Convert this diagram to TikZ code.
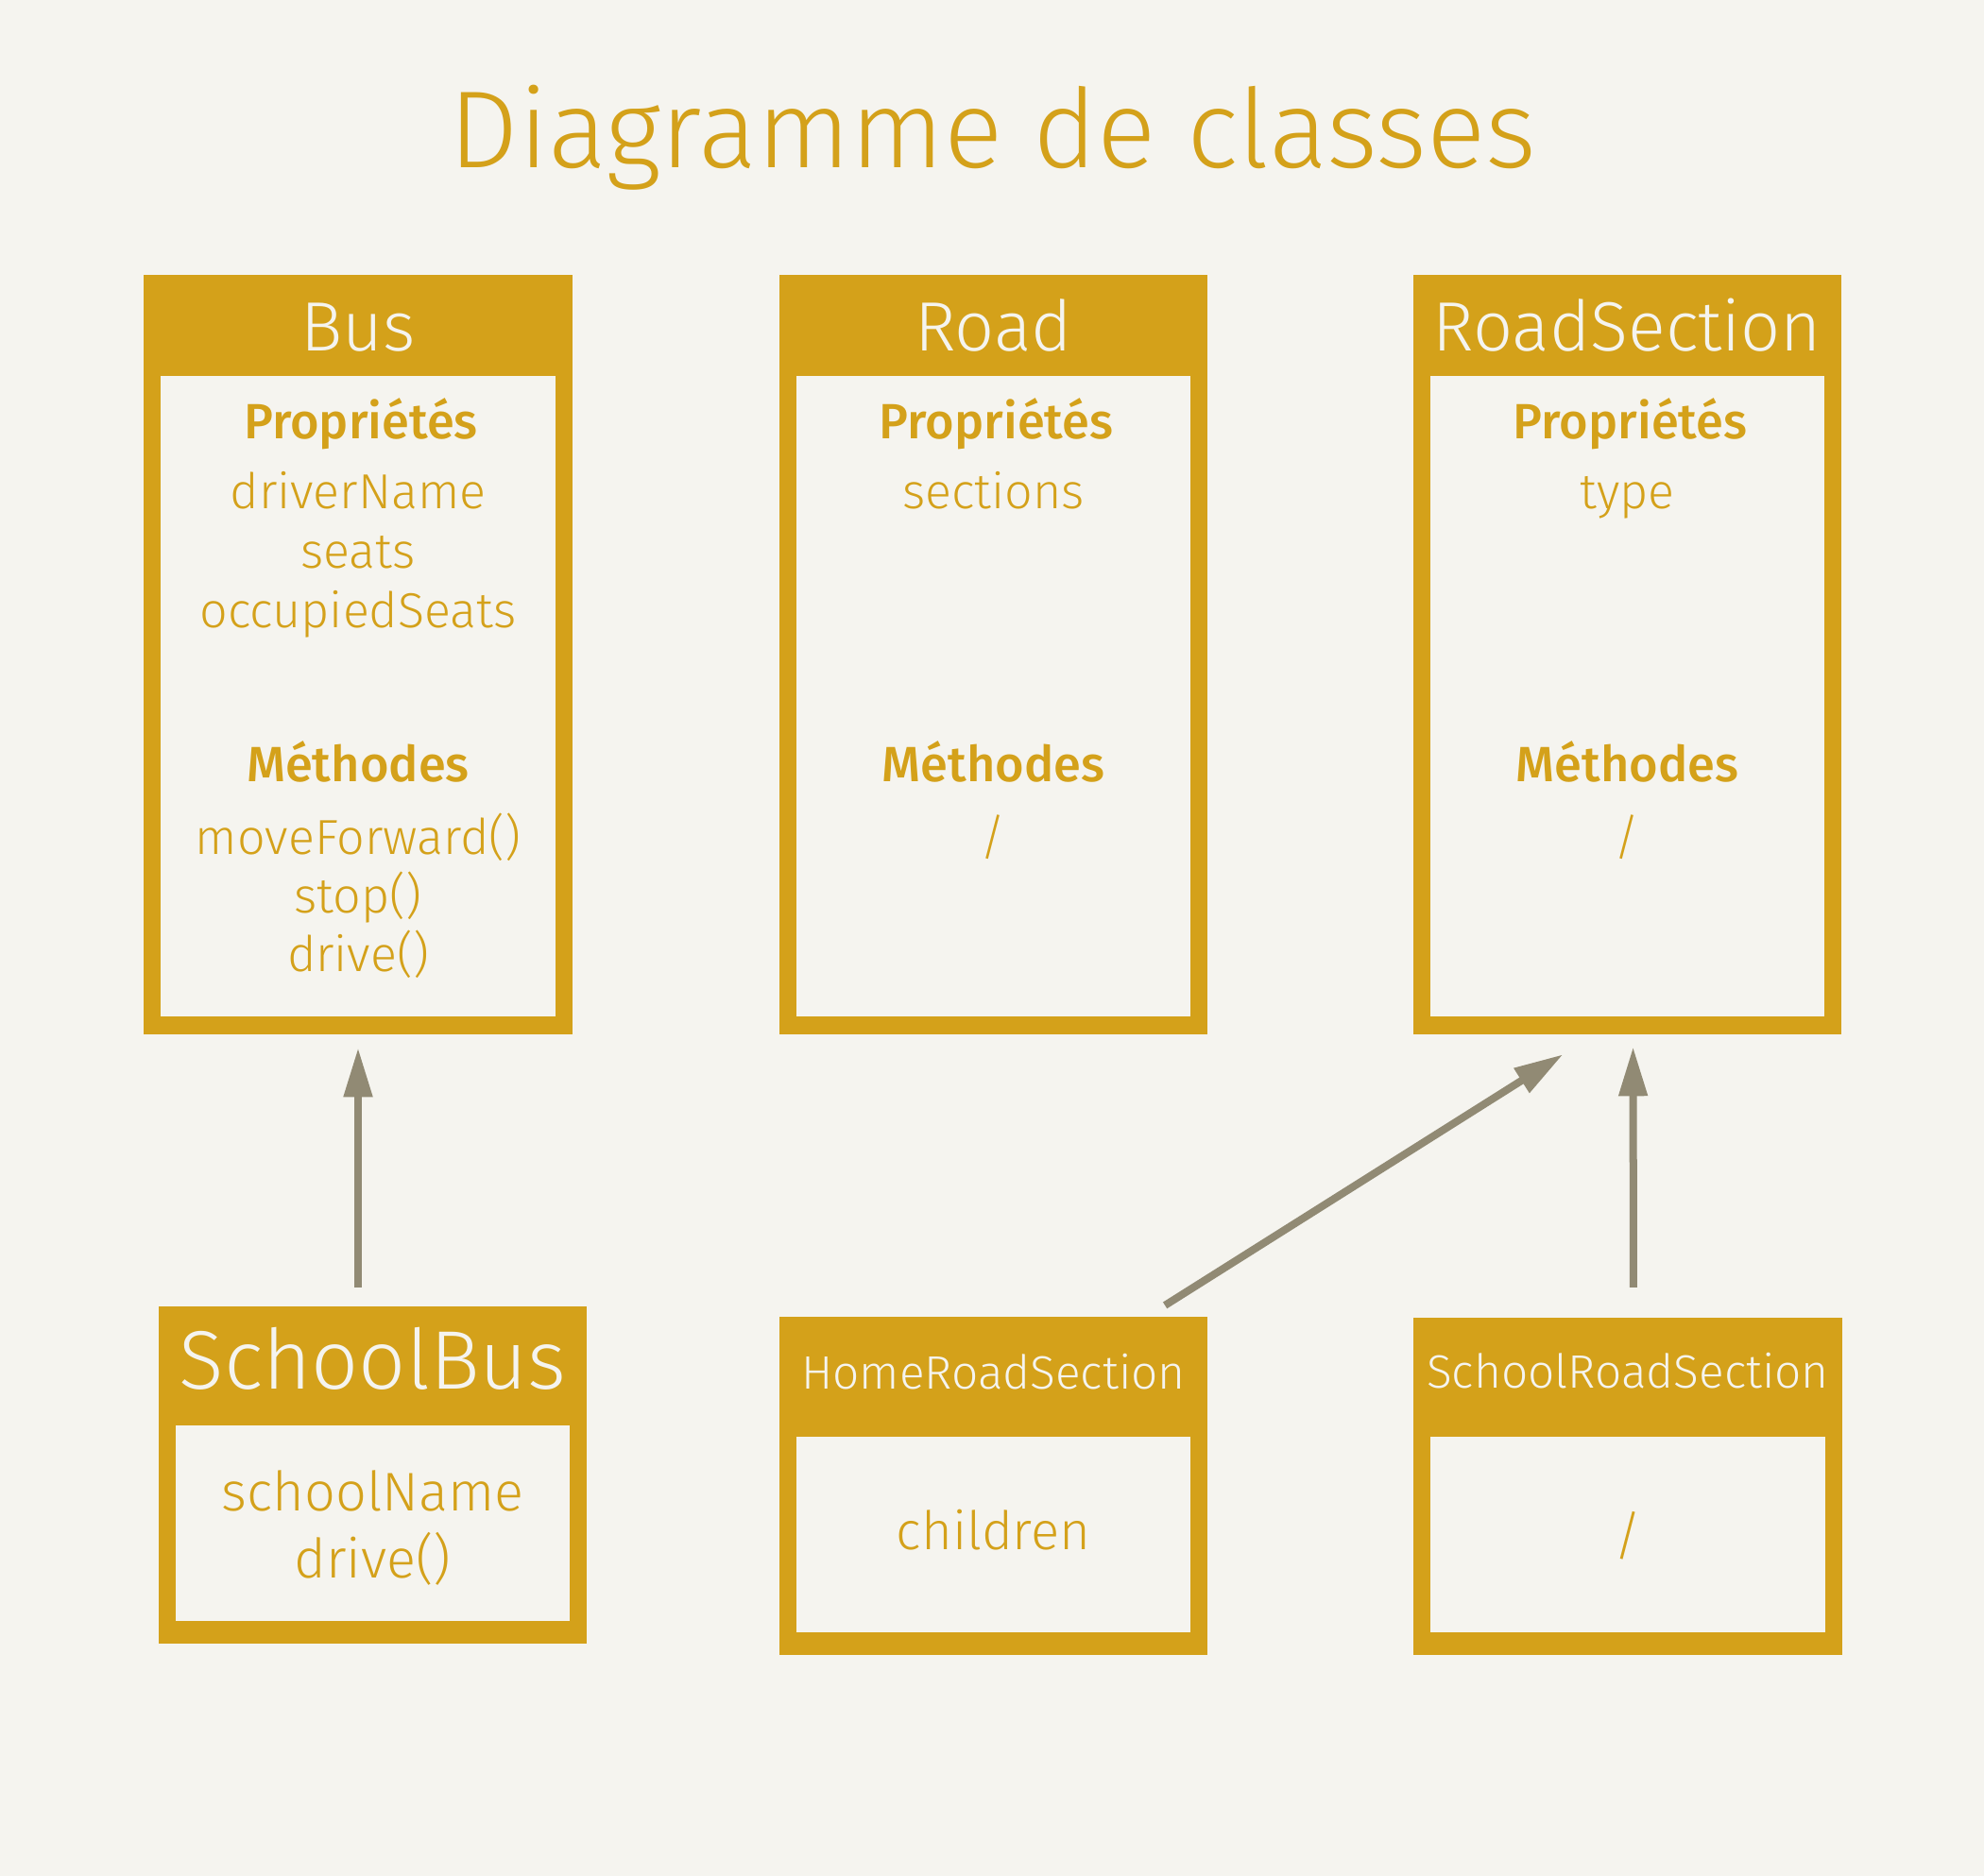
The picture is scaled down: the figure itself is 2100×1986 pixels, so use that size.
\documentclass[tikz,border=0pt]{standalone}
\usepackage{fontspec}
\setmainfont{Fira Sans}[UprightFont={* Light}, BoldFont={* Medium}]
\usetikzlibrary{arrows.meta}
\definecolor{gold}{HTML}{D4A11A}
\definecolor{paper}{HTML}{F5F4EF}
\definecolor{arrowgray}{HTML}{918A74}
\newcommand{\titlefont}{\fontsize{33}{40}\selectfont}
\newcommand{\headerfont}{\fontsize{21}{25}\selectfont}
\tikzset{
    outerbox/.style={fill=gold, inner sep=0pt, outer sep=0pt, minimum width=4.53cm},
    innerbox/.style={fill=paper, inner sep=0pt, outer sep=0pt, minimum width=4.17cm},
    titletext/.style={text=paper, anchor=base, inner sep=0pt},
    headtext/.style={text=gold, anchor=base, inner sep=0pt, font=\fontsize{14.9}{18}\selectfont\bfseries},
    membertext/.style={text=gold, anchor=base, inner sep=0pt, font=\fontsize{14.8}{18}\selectfont},
    inherit/.style={draw=arrowgray, line width=0.08cm, -{Triangle[length=0.52cm,width=0.29cm]}}
}

\begin{document}
\begin{tikzpicture}[x=0.01cm, y=-0.01cm]
        \fill[paper] (0,0) rectangle (2100,1986);
        \useasboundingbox (0,0) rectangle (2100,1986);

        \newcommand{\bigclass}[5]{
            \node[outerbox, minimum height=8.04cm] (#1) at (#2,693) {};
            \node[innerbox, minimum height=6.78cm] (#1-in) at (#2,737) {};
            \node[titletext, font=\headerfont] (#1-title) at (#2,372) {#3};
            \node[headtext] (#1-props) at (#2+3,465) {Propriétés};
            \foreach \m [count=\k from 0] in {#4} {
                \node[membertext] (#1-p\k) at (#2,539+63*\k) {\m};
            }
            \node[headtext] (#1-meth) at (#2,828) {Méthodes};
            \foreach \m [count=\k from 0] in {#5} {
                \node[membertext] (#1-m\k) at (#2,905+62*\k) {\m};
            }
        }

        \node[text=gold, anchor=base, inner sep=0pt, font=\titlefont] (title) at (1051,178) {Diagramme de classes};

        \bigclass{bus}{379}{Bus}{driverName, seats, occupiedSeats}{{moveForward()}, {stop()}, {drive()}}
        \bigclass{road}{1051.5}{Road}{sections}{/}
        \bigclass{rs}{1722.5}{RoadSection}{type}{/}

        % subclasses
        \node[outerbox, minimum height=3.57cm] (sb) at (394.5,1561.5) {};
        \node[innerbox, minimum height=2.07cm] (sb-in) at (394.5,1612.5) {};
        \node[titletext, font=\fontsize{25}{30}\selectfont] (sb-title) at (394.5,1470) {SchoolBus};
        \node[membertext, font=\fontsize{16.4}{19}\selectfont] (sb-p0) at (394.5,1599) {schoolName};
        \node[membertext, font=\fontsize{16.4}{19}\selectfont] (sb-m0) at (394.5,1670) {drive()};

        \node[outerbox, minimum height=3.58cm] (hrs) at (1051.5,1573) {};
        \node[innerbox, minimum height=2.07cm] (hrs-in) at (1051.5,1624.5) {};
        \node[titletext, font=\fontsize{14.1}{17}\selectfont] (hrs-title) at (1051.5,1470) {HomeRoadSection};
        \node[membertext, font=\fontsize{16}{19}\selectfont] (hrs-p0) at (1051.5,1640) {children};

        \node[outerbox, minimum height=3.57cm] (srs) at (1723,1573.5) {};
        \node[innerbox, minimum height=2.07cm] (srs-in) at (1723,1624.5) {};
        \node[titletext, font=\fontsize{14.1}{17}\selectfont] (srs-title) at (1723,1469) {SchoolRoadSection};
        \node[membertext, font=\fontsize{16}{19}\selectfont] (srs-p0) at (1723,1645) {/};

        % inheritance arrows
        \draw[inherit, shorten <=0.2cm, shorten >=0.14cm] (sb.north -| bus.south) -- (bus.south);
        \draw[inherit, shorten <=0.32cm, shorten >=0.13cm] ([xshift=0.06cm]srs.north) -- ([xshift=0.06cm]rs.south);
        \coordinate (hrs-out) at ([xshift=-0.45cm, yshift=0.12cm]hrs.north east);
        \coordinate (rs-in) at ([xshift=-0.68cm, yshift=-0.21cm]rs.south);
        \draw[inherit] (hrs-out) -- (rs-in);
    \end{tikzpicture}
\end{document}
